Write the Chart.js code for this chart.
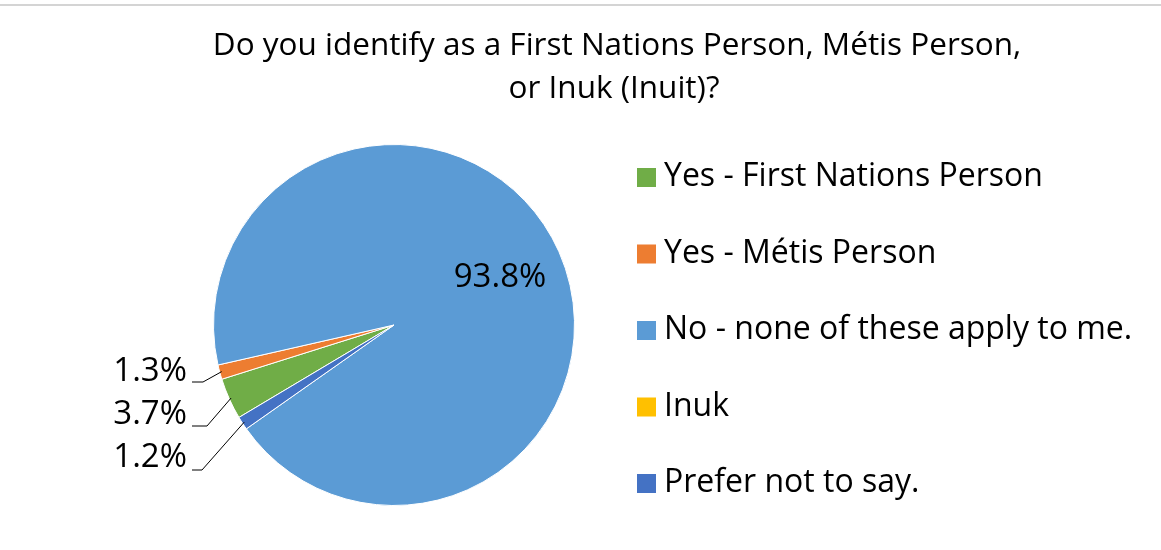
<!DOCTYPE html>
<html>
<head>
<meta charset="utf-8">
<script src="https://cdn.jsdelivr.net/npm/chart.js@4.4.1/dist/chart.umd.min.js"></script>
<style>
  body { margin: 0; background: #fff; }
  #wrap { width: 1161px; height: 550px; position: relative; }
</style>
</head>
<body>
<div id="wrap"><canvas id="pieChart" width="1161" height="550"></canvas></div>
<script>
"use strict";

// Survey answers (percent)
const categories = [
    'Yes - First Nations Person',
    'Yes - Métis Person',
    'No - none of these apply to me.',
    'Inuk',
    'Prefer not to say.'
];
const percents = [3.7, 1.3, 93.8, 0, 1.2];
const sliceColors = ['#70ad47', '#ed7d31', '#5b9bd5', '#ffc000', '#4472c4'];
const titleLines = ['Do you identify as a First Nations Person, Métis Person,', 'or Inuk (Inuit)?'];

const FONT = '"Open Sans", "Noto Sans", sans-serif';

// Label placement (Excel put the small labels off to the left)
const labelSpots = {
    0: { x: 187, y: 415, elbow: 207, lineY: 426 },
    1: { x: 187, y: 372, elbow: 203, lineY: 382 },
    2: { x: 500, y: 278 },
    4: { x: 187, y: 458, elbow: 202, lineY: 470 }
};

const extras = {
    id: 'extras',
    afterDraw(chart) {
        const ctx = chart.ctx;
        ctx.save();

        // frame line at the top
        ctx.fillStyle = '#d4d4d4';
        ctx.fillRect(0, 4, chart.width, 2);

        // title
        ctx.fillStyle = '#000';
        ctx.font = '31.5px ' + FONT;
        ctx.textAlign = 'center';
        ctx.textBaseline = 'middle';
        ctx.fillText(titleLines[0], 617, 46);
        ctx.fillText(titleLines[1], 614, 89);

        // data labels + leader lines
        const meta = chart.getDatasetMeta(0);
        ctx.font = '33px ' + FONT;
        meta.data.forEach((arc, i) => {
            const spot = labelSpots[i];
            if (!spot || !percents[i]) return;
            const txt = percents[i].toFixed(1) + '%';
            if (spot.elbow) {
                const mid = (arc.startAngle + arc.endAngle) / 2;
                const ex = arc.x + Math.cos(mid) * (arc.outerRadius - 2);
                const ey = arc.y + Math.sin(mid) * (arc.outerRadius - 2);
                ctx.strokeStyle = '#000';
                ctx.lineWidth = 1;
                ctx.beginPath();
                ctx.moveTo(spot.x + 5, spot.lineY);
                ctx.lineTo(spot.elbow, spot.lineY);
                ctx.lineTo(ex, ey);
                ctx.stroke();
                ctx.textAlign = 'right';
            } else {
                ctx.textAlign = 'center';
            }
            ctx.fillStyle = '#000';
            ctx.fillText(txt, spot.x, spot.y);
        });

        // legend
        ctx.font = '32px ' + FONT;
        ctx.textAlign = 'left';
        categories.forEach((name, i) => {
            const y = 177 + i * 76.5;
            ctx.fillStyle = sliceColors[i];
            ctx.fillRect(637, y - 9, 19, 19);
            ctx.fillStyle = '#000';
            ctx.fillText(name, 664, y);
        });

        ctx.restore();
    }
};

const pieChart = new Chart(document.getElementById('pieChart'), {
    type: 'pie',
    data: {
        labels: categories,
        datasets: [{
            data: percents,
            backgroundColor: sliceColors,
            borderColor: '#ffffff',
            borderWidth: 1
        }]
    },
    options: {
        responsive: false,
        animation: false,
        rotation: 239.2,
        layout: { padding: { left: 213, right: 586, top: 144, bottom: 44 } },
        plugins: {
            legend: { display: false },
            title: { display: false },
            tooltip: { enabled: false }
        }
    },
    plugins: [extras]
});
</script>
</body>
</html>
